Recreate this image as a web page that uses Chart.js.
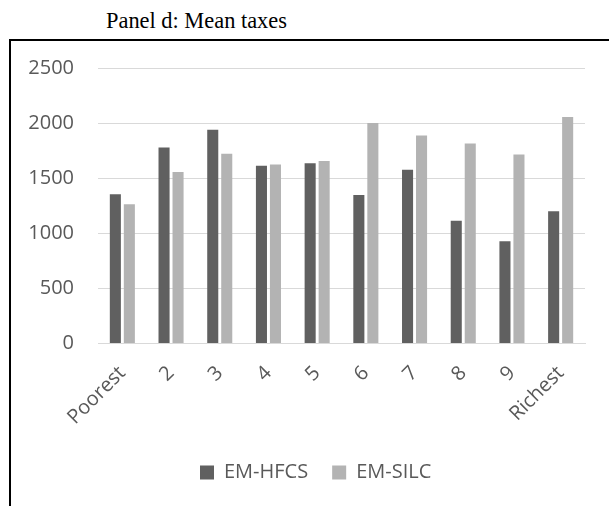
<!DOCTYPE html>
<html>
<head>
<meta charset="utf-8">
<script src="https://cdn.jsdelivr.net/npm/chart.js@4/dist/chart.umd.min.js"></script>
<style>
  html, body { margin: 0; padding: 0; background: #ffffff; }
  #wrap { position: relative; width: 609px; height: 506px; overflow: hidden; background: #fff; }
  #title { position: absolute; left: 106px; top: 10px; font-family: "Liberation Serif", serif; font-size: 22.4px; line-height: 22px; color: #000; white-space: nowrap; }
  #frame { position: absolute; left: 9px; top: 39px; width: 700px; height: 600px; border-left: 2px solid #000; border-top: 2px solid #000; }
  #c { position: absolute; left: 0; top: 0; }
</style>
</head>
<body>
<div id="wrap">
  <div id="title">Panel d: Mean taxes</div>
  <div id="frame"></div>
  <canvas id="c" width="609" height="506"></canvas>
</div>
<script>
const categories = ["Poorest", "2", "3", "4", "5", "6", "7", "8", "9", "Richest"];
const seriesNames = ["EM-HFCS", "EM-SILC"];
const emHfcs = [1355, 1778, 1939, 1612, 1636, 1348, 1576, 1115, 927, 1200];
const emSilc = [1264, 1557, 1721, 1624, 1657, 2000, 1888, 1815, 1715, 2055];
const yTicks = [0, 500, 1000, 1500, 2000, 2500];

const tickFont = { family: "'Open Sans', sans-serif", size: 20 };
const tickColor = "#595959";

const legendShift = {
  id: "legendShift",
  afterLayout(chart) {
    const lg = chart.legend;
    if (!lg) return;
    const w = lg.right - lg.left;
    lg.left = 200 - 24;
    lg.right = lg.left + w;
  }
};

new Chart(document.getElementById("c"), {
  type: "bar",
  data: {
    labels: categories,
    datasets: [
      { label: seriesNames[0], data: emHfcs, backgroundColor: "#606060", borderWidth: 0,
        categoryPercentage: 0.575, barPercentage: 0.79 },
      { label: seriesNames[1], data: emSilc, backgroundColor: "#b3b3b3", borderWidth: 0,
        categoryPercentage: 0.575, barPercentage: 0.79 }
    ]
  },
  options: {
    responsive: false,
    animation: false,
    devicePixelRatio: 1,
    layout: { padding: { left: 20, right: 24, top: 68, bottom: 13.5 } },
    plugins: {
      title: { display: false },
      tooltip: { enabled: false },
      legend: {
        display: true,
        position: "bottom",
        align: "start",
        labels: {
          boxWidth: 14,
          boxHeight: 14,
          padding: 24,
          color: tickColor,
          font: tickFont
        }
      }
    },
    scales: {
      x: {
        grid: { display: false, drawTicks: false },
        border: { display: true, color: "#d9d9d9", width: 1 },
        ticks: {
          color: tickColor,
          font: tickFont,
          minRotation: 45,
          maxRotation: 45,
          autoSkip: false,
          padding: 18
        },
        afterFit(scale) { scale.height = 95; }
      },
      y: {
        min: 0,
        max: 2500,
        afterBuildTicks(scale) { scale.ticks = yTicks.map(v => ({ value: v })); },
        grid: { color: "#d9d9d9", lineWidth: 1, drawTicks: false },
        border: { display: false },
        ticks: { color: tickColor, font: tickFont, padding: 24, callback: (v) => String(v) },
        afterFit(scale) { scale.width = 78; }
      }
    }
  },
  plugins: [legendShift]
});
</script>
</body>
</html>
